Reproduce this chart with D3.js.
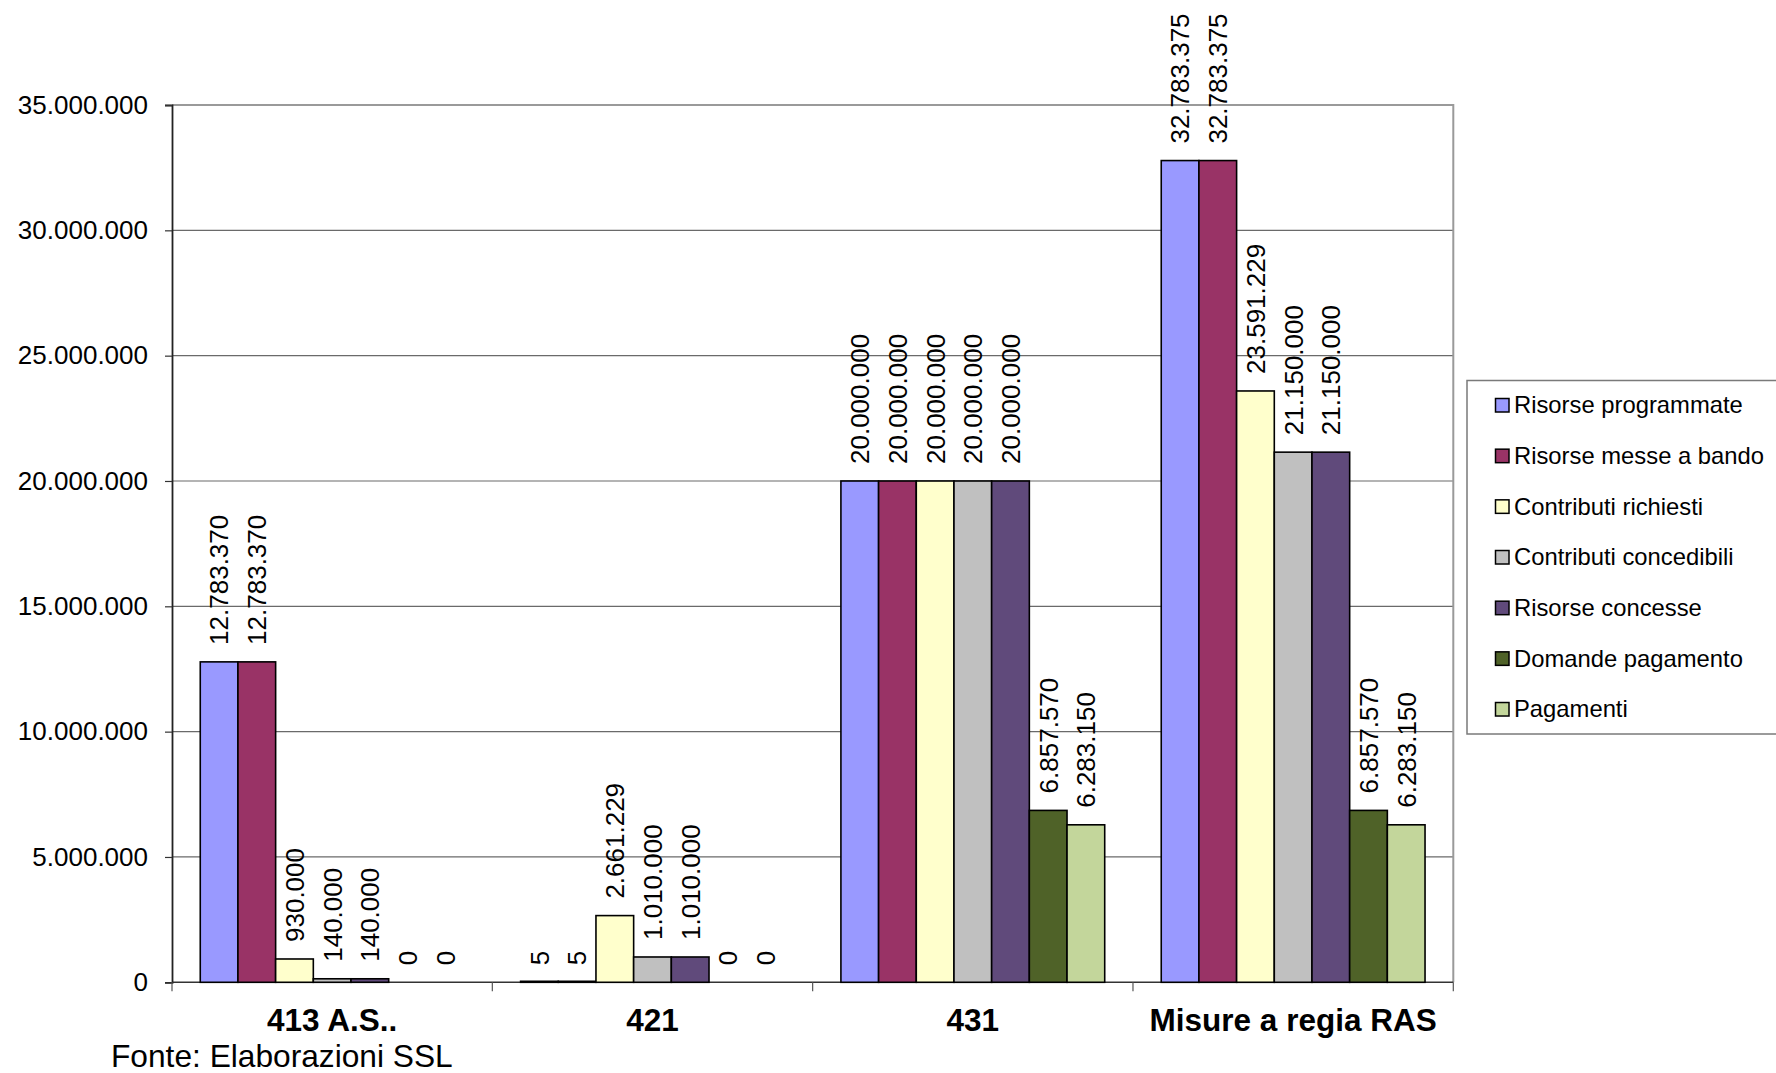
<!DOCTYPE html>
<html>
<head>
<meta charset="utf-8">
<script src="https://cdn.jsdelivr.net/npm/d3@7"></script>
<style>
  html, body { margin: 0; padding: 0; background: #ffffff; }
  svg { display: block; }
  text { font-family: "Liberation Sans", Arial, sans-serif; fill: #000; }
</style>
</head>
<body>
<svg id="chart" width="1776" height="1073"></svg>
<script>
const categories = ["413 A.S..", "421", "431", "Misure a regia RAS"];
const seriesNames = [
  "Risorse programmate",
  "Risorse messe a bando",
  "Contributi richiesti",
  "Contributi concedibili",
  "Risorse concesse",
  "Domande pagamento",
  "Pagamenti"
];
const risorseProgrammate   = [12783370, 5, 20000000, 32783375];
const risorseMesseABando   = [12783370, 5, 20000000, 32783375];
const contributiRichiesti  = [930000, 2661229, 20000000, 23591229];
const contributiConcedibili= [140000, 1010000, 20000000, 21150000];
const risorseConcesse      = [140000, 1010000, 20000000, 21150000];
const domandePagamento     = [0, 0, 6857570, 6857570];
const pagamenti            = [0, 0, 6283150, 6283150];
const seriesColors = ["#9999FF", "#993366", "#FFFFCC", "#C0C0C0", "#604A7B", "#4F6228", "#C3D69B"];
const yTicks = [0, 5000000, 10000000, 15000000, 20000000, 25000000, 30000000, 35000000];
const sourceNote = "Fonte: Elaborazioni SSL";

const seriesValues = [risorseProgrammate, risorseMesseABando, contributiRichiesti,
  contributiConcedibili, risorseConcesse, domandePagamento, pagamenti];

const locale = d3.formatLocale({decimal: ",", thousands: ".", grouping: [3], currency: ["", " €"]});
const fmt = locale.format(",d");

const svg = d3.select("#chart");
const L = 172, R = 1453.3, T = 105, B = 982.3;

const x0 = d3.scaleBand().domain(categories).range([L, R]).paddingInner(0).paddingOuter(0);
const x1 = d3.scaleBand().domain(seriesNames).range([0, x0.bandwidth()]).paddingInner(0).paddingOuter(0.75);
const y = d3.scaleLinear().domain([0, 35000000]).range([B, T]);

// gridlines
svg.append("g").selectAll("line").data(yTicks.filter(v => v > 0 && v < 35000000)).join("line")
  .attr("x1", L).attr("x2", R).attr("y1", d => y(d)).attr("y2", d => y(d))
  .attr("stroke", "#6a6a6a").attr("stroke-width", 1.2);

// plot border top & right
svg.append("path")
  .attr("d", `M${L},${y(35000000)}H${R}V${B}`)
  .attr("fill", "none").attr("stroke", "#9a9a9a").attr("stroke-width", 2);

// bars
const data = [];
categories.forEach((c, ci) => {
  seriesNames.forEach((s, si) => {
    data.push({cat: c, series: s, si, value: seriesValues[si][ci]});
  });
});

// x axis line
svg.append("line").attr("x1", L).attr("x2", R).attr("y1", B).attr("y2", B)
  .attr("stroke", "#333").attr("stroke-width", 1.5);

const gBars = svg.append("g");
gBars.selectAll("rect").data(data.filter(d => d.value > 0)).join("rect")
  .attr("x", d => x0(d.cat) + x1(d.series))
  .attr("y", d => Math.min(y(d.value), B - 1))
  .attr("width", x1.bandwidth())
  .attr("height", d => Math.max(1, B - y(d.value)))
  .attr("fill", d => seriesColors[d.si])
  .attr("stroke", "#000").attr("stroke-width", 1.6);

// y axis
const yAxis = svg.append("g").attr("transform", `translate(${L},0)`)
  .call(d3.axisLeft(y).tickValues(yTicks).tickSize(7).tickPadding(17).tickFormat(fmt));
yAxis.select(".domain").attr("stroke", "#222").attr("stroke-width", 1.8);
yAxis.selectAll(".tick line").attr("stroke", "#333").attr("stroke-width", 1.2);
yAxis.selectAll(".tick text").attr("font-size", 26).attr("font-family", "Liberation Sans, Arial, sans-serif").attr("fill", "#000");

// x axis (category labels)
const xAxis = svg.append("g").attr("transform", `translate(0,${B})`)
  .call(d3.axisBottom(x0).tickSize(0).tickPadding(0));
xAxis.select(".domain").remove();
xAxis.selectAll(".tick text")
  .attr("y", 49).attr("dy", null)
  .attr("font-size", 31.5).attr("font-weight", "bold")
  .attr("font-family", "Liberation Sans, Arial, sans-serif").attr("fill", "#000");

// category boundary ticks
const bounds = categories.map(c => x0(c)).concat([x0(categories[categories.length - 1]) + x0.bandwidth()]);
svg.append("g").selectAll("line").data(bounds).join("line")
  .attr("x1", d => d).attr("x2", d => d).attr("y1", B).attr("y2", B + 9)
  .attr("stroke", "#555").attr("stroke-width", 1.2);

// data labels
svg.append("g").selectAll("text").data(data).join("text")
  .attr("transform", d => `translate(${x0(d.cat) + x1(d.series) + x1.bandwidth() / 2},${y(d.value) - 17}) rotate(-90)`)
  .attr("dy", "0.36em")
  .attr("text-anchor", "start")
  .attr("font-size", 26)
  .text(d => fmt(d.value));

// legend
const lg = svg.append("g");
lg.append("rect").attr("x", 1467).attr("y", 380.5).attr("width", 340).attr("height", 353.5)
  .attr("fill", "#fff").attr("stroke", "#7a7a7a").attr("stroke-width", 1.5);
const items = lg.selectAll("g.item").data(seriesNames).join("g").attr("class", "item")
  .attr("transform", (d, i) => `translate(0,${405 + i * 50.67})`);
items.append("rect").attr("x", 1495.5).attr("y", -6.5).attr("width", 13.5).attr("height", 13.5)
  .attr("fill", (d, i) => seriesColors[i]).attr("stroke", "#000").attr("stroke-width", 1.5);
items.append("text").attr("x", 1514).attr("y", 8.4).attr("font-size", 23.8).text(d => d);

// source note
svg.append("text").attr("x", 111).attr("y", 1067).attr("font-size", 31.7).text(sourceNote);
</script>
</body>
</html>
